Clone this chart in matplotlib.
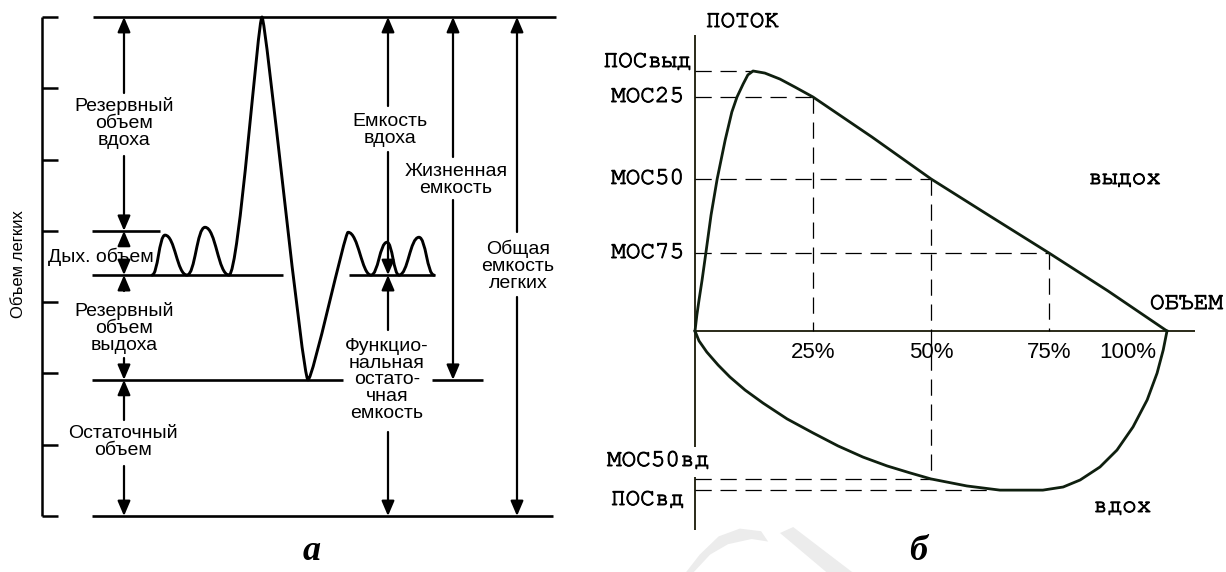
import matplotlib
matplotlib.use('Agg')
import matplotlib.pyplot as plt
import matplotlib.patheffects as pe
from matplotlib.path import Path
from matplotlib.patches import PathPatch, Polygon

# ---------------- DATA ----------------

# Panel a: lung volumes, litres
vol_ticks = [0, 1, 2, 3, 4, 5, 6, 7]
tlc = 7.0          # total lung capacity
tidal_top = 4.0    # end of quiet inspiration
frc = 3.38         # end of quiet expiration
rv = 1.91          # residual volume

# turning points of the spirogram (time units, litres)
spiro_t = [152, 165, 187, 205, 229, 262, 308, 348, 371, 387, 399, 419, 434]
spiro_v = [3.38, 3.94, 3.38, 4.05, 3.38, 7.0, 1.91, 3.98, 3.38, 3.84, 3.38, 3.91, 3.38]

# Panel b: flow-volume loop (volume %, flow L/s)
exp_vol = [0, 0.4, 0.85, 1.5, 2.3, 3.4, 4.7, 6.4, 7.8, 8.9, 10.2, 11.2, 12.3,
           14.8, 18.0, 21.2, 25, 37.5, 50, 62.5, 75, 87.5, 100]
exp_flow = [0, 0.62, 1.19, 1.96, 3.0, 4.46, 5.85, 7.35, 8.42, 9.0, 9.5, 9.85, 10.0,
            9.92, 9.69, 9.38, 9.0, 7.46, 5.85, 4.42, 3.0, 1.54, 0]
insp_vol = [0, 0.85, 2.5, 4.9, 7.4, 10.6, 14.4, 19.5, 25, 30.3, 35.6, 40.7, 45.6,
            50, 57.6, 64.6, 73.7, 78.0, 81.6, 85.8, 89.4, 92.8, 95.8, 97.9, 99.2, 100]
insp_flow = [0, -0.38, -0.81, -1.31, -1.77, -2.27, -2.77, -3.38, -3.92, -4.42, -4.85,
             -5.19, -5.46, -5.69, -5.96, -6.12, -6.12, -6.0, -5.73, -5.23, -4.58,
             -3.69, -2.65, -1.62, -0.73, 0]

pef_vol, pef = 12.3, 10.0
mos_vol = [25, 50, 75]
mos_flow = [9.0, 5.85, 3.0]
mos_names = ['МОС25', 'МОС50', 'МОС75']
pif_vol, pif = 63.0, -6.12
mos50_insp = -5.69
pct_labels = ['25%', '50%', '75%', '100%']
pct_vals = [25, 50, 75, 100]

# ---------------- FIGURE ----------------
W, H = 1226, 572
fig = plt.figure(figsize=(W / 100, H / 100), dpi=100)
fig.patch.set_facecolor('white')

SANS = 'Liberation Sans'
MONO = 'FreeMono'
SERIF = 'Liberation Serif'

# panel a axes: x in time units (1 unit = 1 px), y in litres
ax_a = fig.add_axes([0, 0, 1, 1])
ax_a.set_xlim(0, W)
ax_a.set_ylim(-56 / 71.286, 516 / 71.286)
ax_a.axis('off')

# panel b axes: x in % of volume, y flow
ax_b = fig.add_axes([0, 0, 1, 1])
ax_b.set_xlim(-695 / 4.72, (W - 695) / 4.72)
ax_b.set_ylim(-(H - 331) / 26, 331 / 26)
ax_b.axis('off')
ax_b.patch.set_alpha(0)

K = 'black'

# faint watermark
ax_b.add_patch(Polygon([(-0.4, -9.3), (3.2, -8.6), (7.0, -8.2), (12.0, -8.0), (15.5, -8.1),
                        (14.0, -7.7), (9.5, -7.6), (5.0, -7.9), (1.0, -8.6), (-2.0, -9.3)],
                       closed=True, color='#ececec', lw=0, zorder=0))
ax_b.add_patch(Polygon([(18.0, -7.77), (20.8, -7.54), (33.5, -9.3), (28.0, -9.3)],
                       closed=True, color='#ececec', lw=0, zorder=0))

# ---- panel a ----
ax_a.vlines(42, 0, tlc, color=K, lw=1.8)
ax_a.hlines(vol_ticks, 42, 58, color=K, lw=1.8)

lw_lvl = 1.9
ax_a.hlines(tlc, 93, 556, color=K, lw=lw_lvl)
ax_a.hlines(tidal_top, 92, 160, color=K, lw=lw_lvl)
ax_a.hlines(frc, 92, 283, color=K, lw=lw_lvl)
ax_a.hlines(frc, 349, 435, color=K, lw=lw_lvl)
ax_a.hlines(rv, 92, 343, color=K, lw=lw_lvl)
ax_a.hlines(rv, 432, 483, color=K, lw=lw_lvl)
ax_a.hlines(0, 92, 553, color=K, lw=lw_lvl)

# spirogram as smooth bezier segments between turning points
tension = [0.45, 0.45, 0.45, 0.45, 0.3, 0.12, 0.12, 0.4, 0.45, 0.45, 0.45, 0.45]
tension_end = [0.45, 0.45, 0.45, 0.45, 0.12, 0.08, 0.08, 0.45, 0.45, 0.45, 0.45, 0.45]
verts = [(spiro_t[0], spiro_v[0])]
codes = [Path.MOVETO]
for i in range(len(spiro_t) - 1):
    t0, v0 = spiro_t[i], spiro_v[i]
    t1, v1 = spiro_t[i + 1], spiro_v[i + 1]
    dt = t1 - t0
    if i in (4, 6):
        k0, k1 = tension[i], tension_end[i]
    else:
        k0, k1 = tension_end[i], tension[i]
    verts += [(t0 + k0 * dt, v0), (t1 - k1 * dt, v1), (t1, v1)]
    codes += [Path.CURVE4] * 3
ax_a.add_patch(PathPatch(Path(verts, codes), fill=False, color=K, lw=2.1,
                         capstyle='round', joinstyle='round'))


def v_of(y_px):
    return (516 - y_px) / 71.286


def arrow(ax, x, y_tail, y_tip):
    ax.annotate('', xy=(x, y_tip), xytext=(x, y_tail),
                arrowprops=dict(arrowstyle='-|>,head_length=0.75,head_width=0.32',
                                color=K, lw=1.6, shrinkA=0, shrinkB=0,
                                mutation_scale=12))


# arrow columns: x, tail, tip
arrow(ax_a, 124, v_of(93), tlc)
arrow(ax_a, 124, v_of(156), tidal_top)
arrow(ax_a, 124, v_of(245), tidal_top)
arrow(ax_a, 124, v_of(265), frc)
arrow(ax_a, 124, v_of(291), frc)
arrow(ax_a, 124, v_of(358), rv)
arrow(ax_a, 124, v_of(420), rv)
arrow(ax_a, 124, v_of(466), 0)

arrow(ax_a, 388, v_of(106), tlc)
arrow(ax_a, 388, v_of(152), frc)
arrow(ax_a, 388, v_of(330), frc)
arrow(ax_a, 388, v_of(432), 0)

arrow(ax_a, 453, v_of(157), tlc)
arrow(ax_a, 453, v_of(200), rv)

arrow(ax_a, 517, v_of(232), tlc)
arrow(ax_a, 517, v_of(297), 0)

fs_a = 14
ls = 0.98
txt = dict(ha='center', va='center', fontsize=fs_a, family=SANS, linespacing=ls)
ax_a.text(124, v_of(123), 'Резервный\nобъем\nвдоха', **txt)
ax_a.text(101, v_of(257), 'Дых. объем', **txt)
ax_a.text(124, v_of(328), 'Резервный\nобъем\nвыдоха', **txt)
ax_a.text(123, v_of(442), 'Остаточный\nобъем', **txt)
ax_a.text(390, v_of(130), 'Емкость\nвдоха', **txt)
ax_a.text(456, v_of(180), 'Жизненная\nемкость', **txt)
ax_a.text(518, v_of(266), 'Общая\nемкость\nлегких', **txt)
ax_a.text(387, v_of(380), 'Функцио-\nнальная\nостато-\nчная\nемкость', **txt)
ax_a.text(19, v_of(264), 'Объем легких', rotation=90, ha='center', va='center',
          fontsize=12, family=SANS)

ax_a.text(312, v_of(551), 'а', ha='center', va='center', fontsize=26,
          family=SERIF, weight='bold', style='italic')
ax_a.text(918, v_of(551), 'б', ha='center', va='center', fontsize=26,
          family=SERIF, weight='bold', style='italic')

# ---- panel b ----
AX = '#2a2a18'
CURVE = '#0f1f0f'
ax_b.vlines(0, (331 - 447) / 26, (331 - 35) / 26, color=AX, lw=1.4)
ax_b.vlines(0, (331 - 530) / 26, (331 - 477) / 26, color=AX, lw=1.4)
ax_b.hlines(0, 0, (1195 - 695) / 4.72, color=AX, lw=1.4)

dash = dict(color=K, lw=0.9, linestyle=(0, (13, 7)))
ax_b.plot([0, pef_vol], [pef, pef], **dash)
for mv, mf in zip(mos_vol, mos_flow):
    ax_b.plot([0, mv], [mf, mf], **dash)
ax_b.plot([25, 25], [mos_flow[0], 0], **dash)
ax_b.plot([50, 50], [mos_flow[1], mos50_insp], **dash)
ax_b.plot([75, 75], [mos_flow[2], 0], **dash)
ax_b.plot([0, 50], [mos50_insp, mos50_insp], **dash)
ax_b.plot([0, pif_vol], [pif, pif], **dash)

ax_b.plot(exp_vol, exp_flow, color=CURVE, lw=2.0, solid_joinstyle='round')
ax_b.plot(insp_vol, insp_flow, color=CURVE, lw=2.0, solid_joinstyle='round')


def f_of(y_px):
    return (331 - y_px) / 26


def p_of(x_px):
    return (x_px - 695) / 4.72


thick = [pe.withStroke(linewidth=0.7, foreground='black')]
mono = dict(fontsize=17.5, family=MONO, va='center', path_effects=thick)
ax_b.text(p_of(706), f_of(22), 'ПОТОК', ha='left', **mono)
ax_b.text(p_of(691), f_of(62), 'ПОСвыд', ha='right', **mono)
for name, mf in zip(mos_names, mos_flow):
    ax_b.text(p_of(684), mf, name, ha='right', **mono)
ax_b.text(p_of(1088), f_of(179), 'выдох', ha='left', **mono)
ax_b.text(p_of(1150), f_of(304), 'ОБЪЕМ', ha='left', **mono)
ax_b.text(p_of(607), f_of(461), 'МОС50вд', ha='left', **mono)
ax_b.text(p_of(611), f_of(500), 'ПОСвд', ha='left', **mono)
ax_b.text(p_of(1093), f_of(507), 'вдох', ha='left', **mono)

for lab, pv in zip(pct_labels, pct_vals):
    xo = pv if pv < 100 else p_of(1128)
    ax_b.text(xo, f_of(352), lab, ha='center', va='center', fontsize=16, family=SANS)

fig.savefig('out.png', dpi=100, facecolor='white')
